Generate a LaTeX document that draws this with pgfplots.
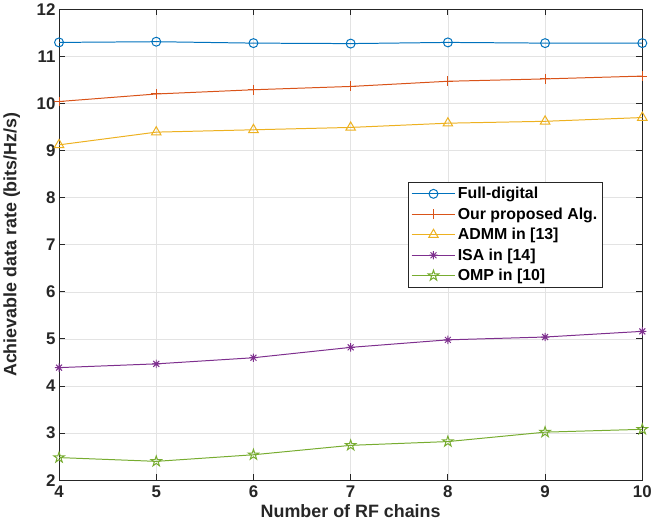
\documentclass[border=0pt]{standalone}
\usepackage{fontspec}
\setmainfont{Liberation Sans}
\usepackage{pgfplots}
\pgfplotsset{compat=1.18}
\usetikzlibrary{plotmarks}
\definecolor{c1}{rgb}{0,0.447,0.741}
\definecolor{c2}{rgb}{0.85,0.325,0.098}
\definecolor{c3}{rgb}{0.929,0.694,0.125}
\definecolor{c4}{rgb}{0.494,0.184,0.556}
\definecolor{c5}{rgb}{0.466,0.674,0.188}
\definecolor{axc}{rgb}{0.15,0.15,0.15}
\pgfdeclareplotmark{pentagram}{%
  \pgfpathmoveto{\pgfpointpolar{90}{\pgfplotmarksize}}%
  \pgfpathlineto{\pgfpointpolar{126}{0.382\pgfplotmarksize}}%
  \pgfpathlineto{\pgfpointpolar{162}{\pgfplotmarksize}}%
  \pgfpathlineto{\pgfpointpolar{198}{0.382\pgfplotmarksize}}%
  \pgfpathlineto{\pgfpointpolar{234}{\pgfplotmarksize}}%
  \pgfpathlineto{\pgfpointpolar{270}{0.382\pgfplotmarksize}}%
  \pgfpathlineto{\pgfpointpolar{306}{\pgfplotmarksize}}%
  \pgfpathlineto{\pgfpointpolar{342}{0.382\pgfplotmarksize}}%
  \pgfpathlineto{\pgfpointpolar{18}{\pgfplotmarksize}}%
  \pgfpathlineto{\pgfpointpolar{54}{0.382\pgfplotmarksize}}%
  \pgfpathclose
  \pgfusepathqstroke
}
\pgfdeclareplotmark{mlasterisk}{%
  \pgfpathmoveto{\pgfqpoint{-\pgfplotmarksize}{0pt}}\pgfpathlineto{\pgfqpoint{\pgfplotmarksize}{0pt}}%
  \pgfpathmoveto{\pgfqpoint{0pt}{-\pgfplotmarksize}}\pgfpathlineto{\pgfqpoint{0pt}{\pgfplotmarksize}}%
  \pgfpathmoveto{\pgfqpoint{-0.707\pgfplotmarksize}{-0.707\pgfplotmarksize}}\pgfpathlineto{\pgfqpoint{0.707\pgfplotmarksize}{0.707\pgfplotmarksize}}%
  \pgfpathmoveto{\pgfqpoint{-0.707\pgfplotmarksize}{0.707\pgfplotmarksize}}\pgfpathlineto{\pgfqpoint{0.707\pgfplotmarksize}{-0.707\pgfplotmarksize}}%
  \pgfusepathqstroke
}
\begin{document}
\begin{tikzpicture}
\begin{axis}[
  scale only axis,
  width=587pt, height=474pt,
  xmin=4, xmax=10, ymin=2, ymax=12,
  xtick={4,5,6,7,8,9,10},
  ytick={2,3,4,5,6,7,8,9,10,11,12},
  grid=major,
  grid style={gray!22, line width=0.6pt},
  axis line style={axc, line width=0.8pt},
  tick style={axc, line width=0.8pt},
  tick align=inside,
  major tick length=6pt,
  /pgf/number format/assume math mode=true,
  ticklabel style={font=\fontsize{17}{19}\selectfont\bfseries, text=axc},
  xticklabel style={yshift=-2pt},
  xlabel={Number of RF chains},
  ylabel={Achievable data rate (bits/Hz/s)},
  label style={font=\fontsize{18}{20}\selectfont\bfseries, text=axc},
  xlabel style={yshift=0pt},
  ylabel style={yshift=10pt},
  legend style={at={(0.932,0.633)}, anchor=north east, font=\fontsize{16}{18}\selectfont\bfseries, draw=axc, line width=0.6pt, fill=white, inner xsep=3pt, inner ysep=3pt, row sep=3.5pt, cells={anchor=west}},
  legend cell align=left,
  legend image code/.code={\draw[mark repeat=2, mark phase=2] plot coordinates {(0pt,0pt) (22pt,0pt) (44pt,0pt)};},
  every axis plot/.append style={line width=1pt},
]
\addplot[c1, mark=o, mark size=4.5pt, mark options={solid, line width=1pt}] coordinates {(4,11.295) (5,11.31) (6,11.28) (7,11.27) (8,11.295) (9,11.28) (10,11.28)};
\addlegendentry{Full-digital}
\addplot[c2, mark=+, mark size=5pt, mark options={solid, line width=1pt}] coordinates {(4,10.04) (5,10.20) (6,10.29) (7,10.36) (8,10.47) (9,10.52) (10,10.58)};
\addlegendentry{Our proposed Alg.\hspace{6pt}}
\addplot[c3, mark=triangle, mark size=5.5pt, mark options={solid, line width=1pt}] coordinates {(4,9.12) (5,9.39) (6,9.44) (7,9.49) (8,9.58) (9,9.62) (10,9.70)};
\addlegendentry{ADMM in [13]}
\addplot[c4, mark=mlasterisk, mark size=4.2pt, mark options={solid, line width=1pt}] coordinates {(4,4.39) (5,4.47) (6,4.60) (7,4.82) (8,4.98) (9,5.04) (10,5.16)};
\addlegendentry{ISA in [14]}
\addplot[c5, mark=pentagram, mark size=5.5pt, mark options={solid, line width=1pt}] coordinates {(4,2.48) (5,2.40) (6,2.54) (7,2.74) (8,2.82) (9,3.02) (10,3.08)};
\addlegendentry{OMP in [10]}
\end{axis}
\end{tikzpicture}
\end{document}
